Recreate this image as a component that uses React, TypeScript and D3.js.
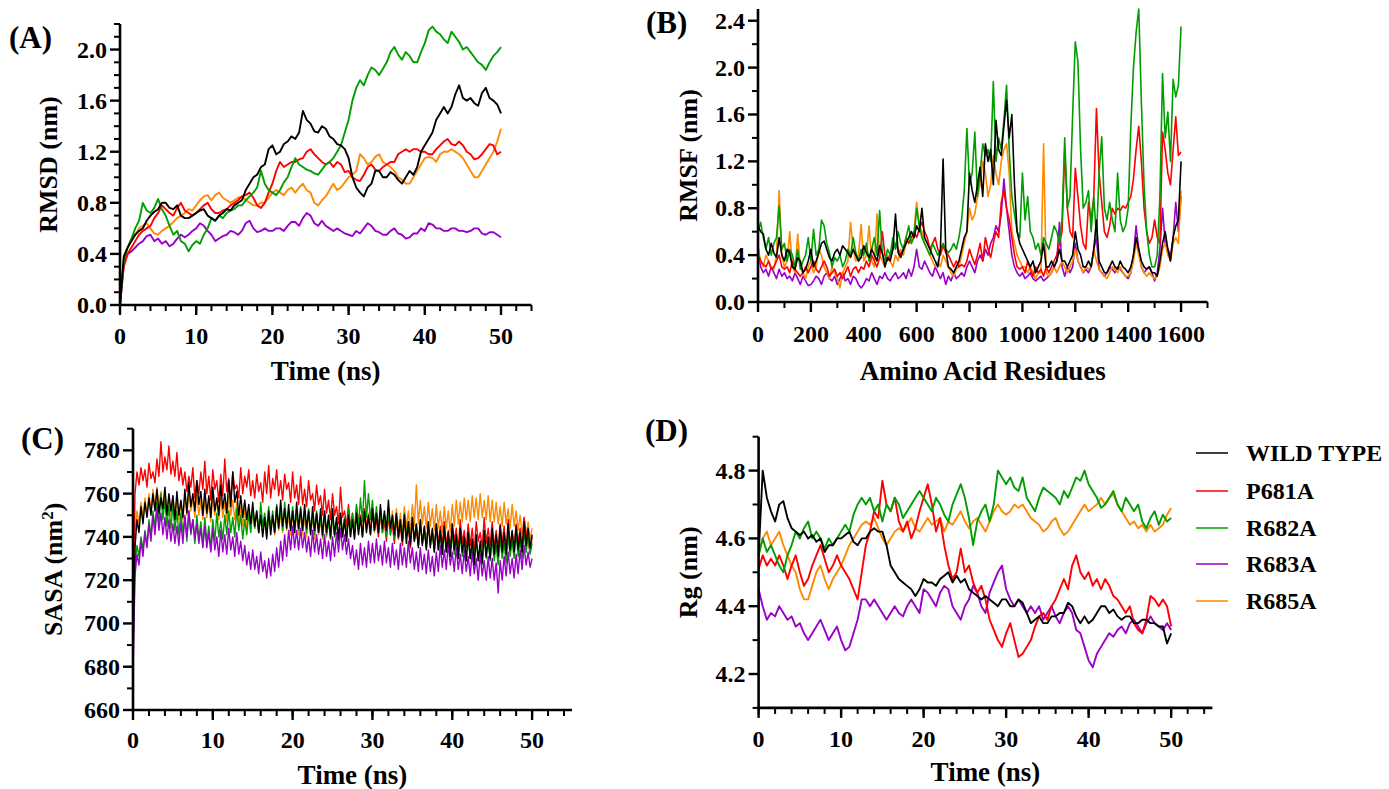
import React from 'react';
import * as d3 from 'd3';

const W = 1389;
const H = 789;
const FONT = "'Liberation Serif', 'Times New Roman', Times, serif";

const SERIES = ['WILD TYPE', 'P681A', 'R682A', 'R683A', 'R685A'];
const COLORS = ['#000000', '#FF0000', '#009E00', '#9B00C8', '#FF8A00'];

const TIME_HALF = d3.range(0, 101).map((i) => i * 0.5);
const TIME_QUARTER = d3.range(0, 201).map((i) => i * 0.25);
const RESIDUES = d3.range(0, 161).map((i) => i * 10);

const TIME_TICKS = [0, 10, 20, 30, 40, 50];
const TIME_MINOR = [0, 2, 4, 6, 8, 10, 12, 14, 16, 18, 20, 22, 24, 26, 28, 30, 32, 34, 36, 38, 40, 42, 44, 46, 48, 50, 52, 54];
const RMSD_TICKS = [0, 0.4, 0.8, 1.2, 1.6, 2.0];
const RMSD_MINOR = [0.1, 0.2, 0.3, 0.5, 0.6, 0.7, 0.9, 1.0, 1.1, 1.3, 1.4, 1.5, 1.7, 1.8, 1.9, 2.1, 2.2];
const RMSF_TICKS = [0, 0.4, 0.8, 1.2, 1.6, 2.0, 2.4];
const RMSF_MINOR = [0.2, 0.6, 1.0, 1.4, 1.8, 2.2];
const RES_TICKS = [0, 200, 400, 600, 800, 1000, 1200, 1400, 1600];
const RES_MINOR = [100, 300, 500, 700, 900, 1100, 1300, 1500, 1700];
const SASA_TICKS = [660, 680, 700, 720, 740, 760, 780];
const SASA_MINOR = [670, 690, 710, 730, 750, 770, 790];
const RG_TICKS = [4.2, 4.4, 4.6, 4.8];
const RG_MINOR = [4.1, 4.3, 4.5, 4.7, 4.9];

// ---------- (A) RMSD, t = 0..50 ns every 0.5 ns ----------
const RMSD_WT = [
  0.00, 0.38, 0.45, 0.50, 0.55, 0.58, 0.60, 0.66, 0.70, 0.73,
  0.75, 0.80, 0.80, 0.76, 0.75, 0.78, 0.70, 0.68, 0.68, 0.70,
  0.72, 0.74, 0.75, 0.70, 0.68, 0.66, 0.70, 0.72, 0.75, 0.74,
  0.78, 0.80, 0.82, 0.90, 0.95, 1.00, 1.02, 1.08, 1.10, 1.22,
  1.25, 1.18, 1.20, 1.26, 1.28, 1.32, 1.30, 1.35, 1.52, 1.45,
  1.42, 1.36, 1.35, 1.40, 1.38, 1.32, 1.30, 1.26, 1.25, 1.22,
  1.15, 1.00, 0.92, 0.88, 0.85, 0.92, 0.95, 1.05, 1.05, 1.00,
  1.00, 1.04, 1.02, 0.98, 0.95, 1.00, 1.05, 1.02, 1.08, 1.20,
  1.25, 1.30, 1.35, 1.45, 1.50, 1.55, 1.50, 1.55, 1.65, 1.72,
  1.62, 1.60, 1.62, 1.58, 1.56, 1.66, 1.70, 1.62, 1.60, 1.57,
  1.50,
];
const RMSD_P681A = [
  0.00, 0.30, 0.40, 0.45, 0.50, 0.55, 0.58, 0.60, 0.62, 0.68,
  0.72, 0.78, 0.75, 0.72, 0.70, 0.76, 0.80, 0.74, 0.72, 0.70,
  0.72, 0.75, 0.78, 0.80, 0.75, 0.72, 0.72, 0.74, 0.75, 0.78,
  0.80, 0.82, 0.85, 0.86, 0.88, 0.84, 0.78, 0.76, 0.80, 0.88,
  0.95, 1.05, 1.12, 1.08, 1.10, 1.12, 1.12, 1.14, 1.15, 1.20,
  1.22, 1.18, 1.15, 1.12, 1.10, 1.12, 1.08, 1.12, 1.10, 1.04,
  1.05, 1.00, 0.98, 0.97, 1.02, 1.08, 1.10, 1.06, 1.05, 1.08,
  1.10, 1.12, 1.12, 1.18, 1.20, 1.22, 1.20, 1.22, 1.22, 1.20,
  1.20, 1.18, 1.18, 1.22, 1.25, 1.28, 1.30, 1.26, 1.25, 1.28,
  1.25, 1.20, 1.18, 1.14, 1.15, 1.18, 1.22, 1.26, 1.25, 1.18,
  1.20,
];
const RMSD_R682A = [
  0.00, 0.35, 0.45, 0.52, 0.60, 0.66, 0.80, 0.74, 0.72, 0.76,
  0.83, 0.75, 0.70, 0.62, 0.55, 0.58, 0.50, 0.48, 0.42, 0.47,
  0.50, 0.48, 0.55, 0.60, 0.68, 0.66, 0.70, 0.68, 0.72, 0.74,
  0.75, 0.78, 0.78, 0.82, 0.85, 0.88, 0.92, 1.05, 0.95, 0.90,
  0.88, 0.86, 0.90, 0.96, 1.00, 1.08, 1.15, 1.10, 1.08, 1.06,
  1.05, 1.03, 1.02, 1.06, 1.10, 1.12, 1.15, 1.20, 1.25, 1.35,
  1.45, 1.60, 1.70, 1.76, 1.72, 1.80, 1.86, 1.84, 1.80, 1.85,
  1.90, 1.98, 2.02, 1.96, 1.92, 1.98, 1.95, 1.90, 1.90, 1.98,
  2.05, 2.15, 2.18, 2.14, 2.12, 2.08, 2.05, 2.14, 2.10, 2.06,
  2.00, 2.02, 1.98, 1.94, 1.90, 1.88, 1.84, 1.90, 1.95, 1.98,
  2.02,
];
const RMSD_R683A = [
  0.00, 0.33, 0.40, 0.42, 0.45, 0.48, 0.50, 0.54, 0.55, 0.50,
  0.52, 0.48, 0.50, 0.46, 0.48, 0.52, 0.55, 0.53, 0.55, 0.58,
  0.60, 0.64, 0.62, 0.58, 0.55, 0.50, 0.52, 0.54, 0.55, 0.58,
  0.57, 0.55, 0.58, 0.64, 0.66, 0.60, 0.57, 0.58, 0.60, 0.58,
  0.58, 0.60, 0.60, 0.58, 0.62, 0.65, 0.65, 0.62, 0.68, 0.72,
  0.70, 0.64, 0.62, 0.66, 0.62, 0.60, 0.58, 0.60, 0.58, 0.56,
  0.55, 0.54, 0.58, 0.56, 0.60, 0.64, 0.62, 0.58, 0.57, 0.55,
  0.55, 0.58, 0.60, 0.56, 0.55, 0.52, 0.53, 0.56, 0.56, 0.60,
  0.58, 0.64, 0.63, 0.60, 0.60, 0.58, 0.58, 0.60, 0.60, 0.58,
  0.58, 0.57, 0.58, 0.60, 0.60, 0.56, 0.55, 0.57, 0.57, 0.55,
  0.53,
];
const RMSD_R685A = [
  0.00, 0.36, 0.45, 0.52, 0.55, 0.60, 0.62, 0.64, 0.60, 0.56,
  0.55, 0.58, 0.60, 0.62, 0.65, 0.68, 0.70, 0.72, 0.75, 0.74,
  0.78, 0.82, 0.85, 0.86, 0.82, 0.86, 0.88, 0.84, 0.82, 0.80,
  0.82, 0.84, 0.85, 0.82, 0.80, 0.78, 0.78, 0.80, 0.80, 0.84,
  0.88, 0.90, 0.88, 0.86, 0.90, 0.92, 0.88, 0.92, 0.95, 0.90,
  0.88, 0.80, 0.78, 0.82, 0.85, 0.90, 0.95, 0.90, 0.92, 0.96,
  1.00, 1.02, 1.05, 1.18, 1.15, 1.10, 1.12, 1.16, 1.18, 1.12,
  1.10, 1.08, 1.05, 1.00, 0.98, 0.95, 0.95, 1.00, 1.05, 1.10,
  1.15, 1.16, 1.15, 1.12, 1.18, 1.20, 1.20, 1.22, 1.20, 1.18,
  1.15, 1.10, 1.05, 1.00, 1.00, 1.05, 1.10, 1.15, 1.20, 1.28,
  1.38,
];

// ---------- (B) RMSF, residues 0..1600 every 10 ----------
const RMSF_WT = [
  0.65, 0.60, 0.58, 0.45, 0.40, 0.50, 0.42, 0.38, 0.55, 0.40,
  0.35, 0.45, 0.42, 0.30, 0.28, 0.38, 0.35, 0.25, 0.28, 0.35,
  0.45, 0.30, 0.35, 0.42, 0.50, 0.52, 0.45, 0.38, 0.35, 0.42,
  0.45, 0.40, 0.48, 0.45, 0.42, 0.38, 0.45, 0.40, 0.35, 0.38,
  0.48, 0.42, 0.38, 0.45, 0.40, 0.35, 0.48, 0.42, 0.30, 0.38,
  0.35, 0.45, 0.75, 0.42, 0.38, 0.45, 0.50, 0.55, 0.60, 0.55,
  0.65, 0.60, 0.80, 0.55, 0.50, 0.45, 0.40, 0.35, 0.30, 0.45,
  1.22, 0.45, 0.30, 0.28, 0.25, 0.30, 0.35, 0.45, 0.55, 0.60,
  1.10, 0.95, 0.85, 1.00, 1.15, 0.90, 1.35, 1.20, 1.30, 1.00,
  1.55, 1.30, 1.25, 1.50, 1.72, 1.40, 1.60, 1.00, 0.60, 0.50,
  0.45, 0.40, 0.35, 0.30, 0.35, 0.25, 0.30, 0.35, 0.50, 0.30,
  0.30, 0.35, 0.30, 0.35, 0.45, 0.35, 0.35, 0.30, 0.35, 0.40,
  0.60, 0.45, 0.40, 0.30, 0.30, 0.35, 0.30, 0.45, 0.70, 0.35,
  0.30, 0.25, 0.25, 0.30, 0.35, 0.30, 0.28, 0.35, 0.30, 0.28,
  0.25, 0.30, 0.40, 0.55, 0.45, 0.35, 0.30, 0.28, 0.30, 0.25,
  0.25, 0.22, 0.35, 0.50, 0.60, 0.45, 0.35, 0.55, 0.65, 0.70,
  1.20,
];
const RMSF_P681A = [
  0.40, 0.35, 0.32, 0.30, 0.35, 0.28, 0.30, 0.35, 0.40, 0.30,
  0.28, 0.30, 0.25, 0.35, 0.28, 0.25, 0.22, 0.25, 0.30, 0.25,
  0.30, 0.35, 0.28, 0.25, 0.30, 0.35, 0.30, 0.22, 0.25, 0.28,
  0.22, 0.25, 0.20, 0.25, 0.30, 0.22, 0.28, 0.30, 0.25, 0.30,
  0.28, 0.35, 0.30, 0.40, 0.35, 0.30, 0.38, 0.60, 0.40, 0.35,
  0.40, 0.45, 0.50, 0.45, 0.40, 0.45, 0.55, 0.50, 0.55, 0.60,
  0.55, 0.62, 0.68, 0.60, 0.55, 0.45, 0.50, 0.55, 0.45, 0.40,
  0.48, 0.42, 0.40, 0.35, 0.30, 0.35, 0.30, 0.32, 0.30, 0.35,
  0.45, 0.38, 0.32, 0.40, 0.50, 0.35, 0.55, 0.45, 0.38, 0.50,
  0.60, 0.55, 0.85, 0.95, 0.80, 0.70, 0.55, 0.40, 0.30, 0.28,
  0.30, 0.25, 0.35, 0.28, 0.22, 0.30, 0.25, 0.28, 0.22, 0.30,
  0.25, 0.30, 0.35, 0.40, 0.50, 0.60, 1.30, 0.80, 0.60, 0.55,
  1.14, 0.90, 0.65, 0.50, 0.45, 0.85, 0.70, 0.90, 1.65, 1.10,
  0.85, 0.60, 0.55, 0.65, 0.80, 0.75, 0.80, 0.78, 0.82, 0.80,
  0.85, 0.90, 1.05, 1.30, 1.50, 1.20, 0.80, 0.60, 0.50, 0.55,
  0.70, 0.55, 0.50, 1.45, 1.30, 1.10, 1.00, 1.30, 1.58, 1.25,
  1.28,
];
const RMSF_R682A = [
  0.60, 0.68, 0.55, 0.45, 0.55, 0.40, 0.50, 0.55, 0.82, 0.45,
  0.50, 0.35, 0.45, 0.40, 0.30, 0.45, 0.28, 0.35, 0.40, 0.55,
  0.35, 0.62, 0.40, 0.45, 0.70, 0.65, 0.50, 0.42, 0.30, 0.38,
  0.35, 0.40, 0.30, 0.35, 0.45, 0.40, 0.55, 0.42, 0.35, 0.45,
  0.40, 0.50, 0.35, 0.45, 0.55, 0.40, 0.78, 0.42, 0.35, 0.45,
  0.40, 0.55, 0.45, 0.60, 0.50, 0.45, 0.55, 0.65, 0.50, 0.55,
  0.80, 0.65, 0.55, 0.50, 0.45, 0.40, 0.50, 0.45, 0.40, 0.45,
  0.50, 0.45, 0.42, 0.45, 0.50, 0.45, 0.55, 0.70, 0.95, 1.48,
  1.00, 1.10, 1.45, 0.90, 1.10, 1.35, 1.25, 1.30, 1.20, 1.88,
  1.20, 1.40, 1.30, 1.55, 1.85, 1.30, 0.90, 0.75, 0.60, 0.55,
  1.10, 0.70, 0.90, 0.60, 0.55, 0.45, 0.50, 0.40, 0.55, 0.50,
  0.45, 0.55, 0.65, 0.60, 0.50, 0.70, 1.40, 0.80, 0.90, 1.60,
  2.22, 2.05, 1.30, 0.80, 0.85, 0.95, 0.60, 0.90, 0.55, 1.10,
  1.41, 0.80, 0.70, 0.85, 0.70, 0.60, 1.10, 0.70, 0.60, 0.65,
  0.80, 1.50, 2.00, 2.30, 2.50, 1.70, 1.00, 0.60, 0.40, 0.30,
  0.30, 0.40, 0.90, 1.95, 1.40, 1.62, 1.20, 1.90, 1.75, 1.85,
  2.35,
];
const RMSF_R683A = [
  0.48, 0.30, 0.25, 0.28, 0.22, 0.30, 0.25, 0.20, 0.28, 0.22,
  0.25, 0.20, 0.22, 0.18, 0.25, 0.20, 0.15, 0.22, 0.18, 0.14,
  0.15, 0.18, 0.22, 0.20, 0.15, 0.22, 0.25, 0.20, 0.18, 0.22,
  0.15, 0.20, 0.25, 0.18, 0.20, 0.15, 0.22, 0.20, 0.15, 0.12,
  0.15, 0.20, 0.18, 0.25, 0.20, 0.15, 0.22, 0.20, 0.25, 0.20,
  0.18, 0.22, 0.25, 0.20, 0.22, 0.25, 0.20, 0.28, 0.22, 0.30,
  0.45, 0.30, 0.28, 0.35, 0.30, 0.25, 0.22, 0.30, 0.25, 0.20,
  0.25, 0.15, 0.22, 0.18, 0.25, 0.20, 0.22, 0.25, 0.22, 0.30,
  0.35, 0.30, 0.25, 0.35, 0.40, 0.35, 0.45, 0.40, 0.50, 0.55,
  0.65, 0.60, 0.75, 1.05, 0.80, 0.60, 0.40, 0.30, 0.25, 0.22,
  0.25, 0.20, 0.22, 0.25, 0.20, 0.18, 0.20, 0.22, 0.18, 0.20,
  0.22, 0.25, 0.30, 0.35, 0.68, 0.30, 0.22, 0.30, 0.25, 0.30,
  0.50, 0.35, 0.30, 0.25, 0.28, 0.25, 0.30, 0.45, 0.55, 0.28,
  0.25, 0.22, 0.25, 0.30, 0.28, 0.25, 0.30, 0.28, 0.25, 0.22,
  0.20, 0.25, 0.40, 0.65, 0.45, 0.30, 0.25, 0.28, 0.30, 0.25,
  0.18, 0.25, 0.45, 0.80, 0.50, 0.45, 0.40, 0.55, 0.85, 0.60,
  0.90,
];
const RMSF_R685A = [
  0.45, 0.35, 0.30, 0.40, 0.35, 0.30, 0.28, 0.40, 0.95, 0.40,
  0.30, 0.35, 0.60, 0.30, 0.25, 0.58, 0.30, 0.25, 0.20, 0.30,
  0.35, 0.25, 0.30, 0.45, 0.40, 0.30, 0.25, 0.20, 0.30, 0.25,
  0.20, 0.12, 0.25, 0.30, 0.35, 0.68, 0.45, 0.35, 0.40, 0.66,
  0.35, 0.40, 0.65, 0.35, 0.30, 0.75, 0.40, 0.35, 0.30, 0.40,
  0.35, 0.30, 0.40, 0.35, 0.45, 0.40, 0.50, 0.55, 0.50, 0.60,
  0.85, 0.65, 0.60, 0.50, 0.45, 0.40, 0.35, 0.30, 0.35, 0.30,
  0.40, 0.35, 0.30, 0.25, 0.22, 0.28, 0.30, 0.40, 0.50, 0.60,
  0.80, 0.70, 0.75, 0.90, 1.00, 1.20, 1.10, 0.90, 1.00, 1.25,
  1.10, 1.00, 1.20, 1.30, 1.35, 1.10, 0.60, 0.50, 0.40, 0.35,
  0.30, 0.30, 0.25, 0.30, 0.25, 0.20, 0.25, 0.25, 1.35, 0.25,
  0.22, 0.25, 0.30, 0.25, 0.30, 0.35, 0.30, 0.25, 0.30, 0.35,
  0.45, 0.35, 0.30, 0.25, 0.30, 0.28, 0.30, 0.45, 0.35, 0.28,
  0.25, 0.22, 0.20, 0.25, 0.30, 0.28, 0.25, 0.30, 0.25, 0.22,
  0.22, 0.25, 0.35, 0.50, 0.40, 0.30, 0.25, 0.22, 0.25, 0.22,
  0.20, 0.22, 0.30, 0.45, 0.50, 0.40, 0.35, 0.50, 0.55, 0.50,
  0.95,
];

// ---------- (C) SASA, t = 0..50 ns every 0.25 ns ----------
const SASA_WT = [
  688, 735, 748, 742, 754, 746, 756, 749, 758, 750, 760, 752,
  762, 751, 758, 753, 763, 750, 760, 752, 759, 748, 761, 750,
  757, 749, 762, 751, 765, 754, 760, 752, 766, 755, 761, 750,
  762, 751, 759, 749, 763, 752, 758, 750, 764, 753, 760, 751,
  766, 754, 770, 756, 761, 750, 759, 749, 757, 748, 755, 746,
  756, 745, 752, 742, 750, 740, 749, 739, 752, 741, 750, 742,
  754, 744, 757, 745, 753, 744, 755, 743, 752, 742, 756, 744,
  753, 743, 755, 744, 752, 741, 754, 743, 751, 742, 753, 741,
  752, 742, 750, 740, 753, 741, 749, 739, 751, 740, 748, 738,
  750, 740, 748, 739, 751, 741, 749, 740, 752, 742, 750, 741,
  753, 743, 751, 742, 755, 744, 752, 743, 757, 744, 750, 741,
  751, 740, 748, 738, 750, 737, 747, 736, 749, 738, 746, 735,
  748, 736, 745, 734, 747, 735, 744, 733, 746, 734, 743, 732,
  745, 733, 742, 731, 746, 734, 741, 730, 744, 733, 740, 729,
  742, 730, 739, 727, 741, 729, 738, 728, 743, 731, 740, 730,
  744, 732, 741, 731, 745, 733, 742, 732, 746, 734, 743, 733,
  745, 734, 742, 733, 747, 736, 744, 735, 741,
];
const SASA_P681A = [
  690, 760, 770, 764, 772, 766, 771, 763, 774, 767, 770, 765,
  776, 768, 784, 770, 777, 771, 782, 769, 775, 768, 779, 766,
  772, 764, 770, 761, 768, 763, 772, 758, 766, 760, 770, 762,
  775, 760, 768, 757, 771, 762, 766, 756, 769, 759, 776, 761,
  767, 757, 770, 762, 764, 758, 772, 760, 768, 763, 771, 759,
  766, 758, 769, 761, 765, 756, 770, 760, 773, 758, 767, 762,
  771, 759, 766, 757, 769, 762, 765, 756, 770, 758, 764, 755,
  768, 755, 762, 754, 766, 757, 760, 752, 764, 755, 759, 750,
  762, 751, 757, 748, 760, 750, 754, 746, 763, 749, 752, 745,
  755, 744, 751, 742, 754, 746, 750, 740, 753, 745, 749, 741,
  752, 743, 748, 740, 751, 742, 747, 738, 750, 741, 746, 737,
  749, 739, 745, 736, 748, 740, 744, 735, 747, 738, 743, 736,
  746, 737, 744, 735, 747, 738, 742, 734, 746, 737, 745, 736,
  747, 736, 743, 735, 746, 738, 744, 734, 748, 737, 743, 735,
  746, 736, 744, 733, 747, 738, 742, 735, 749, 737, 744, 736,
  747, 735, 743, 734, 746, 737, 745, 733, 748, 736, 742, 735,
  746, 737, 744, 735, 749, 742, 738, 733, 740,
];
const SASA_R682A = [
  680, 728, 736, 731, 740, 734, 743, 736, 748, 740, 752, 744,
  756, 746, 760, 748, 757, 745, 754, 744, 755, 743, 752, 741,
  751, 742, 749, 738, 752, 741, 748, 737, 750, 739, 747, 736,
  749, 737, 745, 734, 748, 738, 751, 740, 747, 739, 750, 741,
  752, 742, 749, 740, 753, 743, 750, 739, 748, 741, 751, 742,
  753, 744, 752, 742, 756, 745, 751, 743, 754, 744, 752, 742,
  755, 745, 753, 743, 756, 746, 752, 744, 754, 745, 751, 743,
  754, 744, 752, 742, 753, 743, 750, 741, 752, 742, 749, 740,
  751, 741, 748, 739, 750, 740, 747, 738, 751, 741, 749, 740,
  753, 743, 751, 742, 755, 745, 758, 747, 766, 749, 760, 748,
  757, 745, 754, 743, 752, 742, 750, 740, 753, 741, 749, 739,
  750, 740, 748, 738, 751, 741, 747, 737, 749, 739, 746, 736,
  747, 737, 744, 735, 746, 736, 743, 733, 745, 734, 741, 732,
  743, 733, 740, 731, 742, 732, 739, 730, 741, 731, 738, 729,
  740, 730, 737, 728, 739, 729, 736, 727, 740, 730, 738, 729,
  739, 729, 736, 727, 740, 730, 737, 728, 741, 731, 738, 730,
  742, 731, 739, 730, 743, 733, 740, 732, 737,
];
const SASA_R683A = [
  675, 722, 732, 727, 738, 731, 742, 735, 746, 738, 750, 741,
  753, 743, 751, 741, 749, 739, 748, 738, 746, 737, 745, 736,
  747, 737, 750, 740, 752, 742, 748, 739, 746, 737, 744, 735,
  745, 735, 742, 733, 744, 734, 740, 731, 743, 733, 741, 732,
  744, 734, 740, 731, 742, 732, 738, 729, 736, 727, 733, 725,
  734, 725, 731, 723, 733, 724, 729, 721, 730, 722, 732, 724,
  735, 726, 738, 729, 741, 731, 743, 734, 745, 735, 743, 734,
  744, 735, 742, 733, 740, 731, 743, 733, 741, 732, 739, 730,
  741, 731, 738, 729, 740, 731, 742, 733, 744, 734, 741, 732,
  739, 730, 736, 727, 734, 725, 737, 727, 735, 726, 738, 728,
  737, 728, 739, 729, 736, 727, 738, 728, 735, 726, 737, 727,
  734, 725, 737, 727, 735, 726, 738, 728, 735, 725, 733, 724,
  735, 725, 732, 723, 734, 724, 731, 722, 733, 724, 736, 726,
  734, 725, 737, 727, 733, 724, 735, 725, 732, 723, 734, 724,
  731, 722, 733, 723, 730, 720, 732, 722, 729, 720, 731, 721,
  730, 720, 728, 714, 729, 720, 731, 722, 733, 723, 730, 721,
  732, 723, 734, 725, 736, 727, 733, 726, 730,
];
const SASA_R685A = [
  690, 742, 752, 746, 756, 749, 758, 750, 760, 752, 762, 753,
  763, 754, 761, 752, 760, 751, 758, 750, 759, 749, 757, 748,
  756, 748, 759, 750, 761, 752, 758, 749, 760, 750, 757, 748,
  758, 749, 756, 747, 759, 750, 757, 748, 758, 749, 756, 747,
  759, 750, 757, 748, 756, 747, 754, 745, 753, 744, 752, 743,
  753, 744, 751, 742, 750, 741, 749, 740, 751, 742, 750, 741,
  752, 743, 751, 742, 753, 743, 750, 741, 752, 742, 751, 741,
  751, 741, 750, 740, 752, 742, 749, 739, 751, 741, 748, 739,
  750, 740, 748, 739, 751, 741, 747, 738, 750, 740, 748, 739,
  750, 740, 749, 739, 752, 742, 750, 741, 753, 743, 751, 742,
  752, 742, 750, 741, 753, 743, 751, 742, 754, 744, 752, 742,
  753, 743, 751, 741, 754, 744, 752, 742, 755, 745, 764, 746,
  757, 746, 754, 744, 756, 745, 753, 743, 755, 744, 752, 742,
  754, 744, 752, 742, 755, 745, 757, 746, 756, 747, 758, 748,
  757, 747, 759, 749, 758, 748, 760, 749, 757, 748, 759, 747,
  757, 747, 756, 746, 754, 745, 756, 746, 753, 744, 755, 745,
  752, 743, 750, 741, 749, 740, 747, 739, 744,
];

// ---------- (D) Rg, t = 0..50 ns every 0.5 ns ----------
const RG_WT = [
  4.55, 4.80, 4.72, 4.68, 4.65, 4.70, 4.71, 4.66, 4.63, 4.62,
  4.61, 4.62, 4.60, 4.61, 4.59, 4.60, 4.56, 4.58, 4.58, 4.60,
  4.60, 4.61, 4.62, 4.59, 4.58, 4.60, 4.60, 4.62, 4.63, 4.62,
  4.62, 4.58, 4.52, 4.50, 4.48, 4.47, 4.46, 4.45, 4.43, 4.45,
  4.48, 4.47, 4.47, 4.46, 4.48, 4.49, 4.50, 4.47, 4.49, 4.47,
  4.48, 4.45, 4.44, 4.43, 4.42, 4.43, 4.42, 4.41, 4.40, 4.42,
  4.42, 4.40, 4.40, 4.42, 4.41, 4.38, 4.35, 4.36, 4.37, 4.35,
  4.35, 4.37, 4.37, 4.38, 4.38, 4.41, 4.40, 4.37, 4.35, 4.37,
  4.35, 4.36, 4.38, 4.40, 4.40, 4.38, 4.39, 4.37, 4.36, 4.37,
  4.37, 4.35, 4.35, 4.36, 4.36, 4.35, 4.35, 4.34, 4.34, 4.29,
  4.32,
];
const RG_P681A = [
  4.51, 4.55, 4.52, 4.54, 4.52, 4.55, 4.52, 4.48, 4.52, 4.55,
  4.50, 4.46, 4.48, 4.52, 4.55, 4.58, 4.54, 4.50, 4.52, 4.55,
  4.52, 4.50, 4.48, 4.45, 4.42, 4.50, 4.58, 4.62, 4.68, 4.66,
  4.77, 4.70, 4.68, 4.72, 4.65, 4.62, 4.65, 4.60, 4.63, 4.68,
  4.72, 4.76, 4.70, 4.62, 4.66, 4.58, 4.52, 4.48, 4.50, 4.57,
  4.50, 4.52, 4.47, 4.44, 4.46, 4.42, 4.36, 4.33, 4.30, 4.28,
  4.32, 4.35, 4.30, 4.25, 4.26, 4.28, 4.30, 4.34, 4.37, 4.38,
  4.36, 4.40, 4.42, 4.45, 4.48, 4.45, 4.52, 4.55, 4.50, 4.48,
  4.50, 4.46, 4.48, 4.45, 4.48, 4.46, 4.43, 4.42, 4.40, 4.38,
  4.40, 4.35, 4.33, 4.32, 4.36, 4.43, 4.42, 4.40, 4.42, 4.40,
  4.34,
];
const RG_R682A = [
  4.55, 4.60, 4.56, 4.58, 4.55, 4.52, 4.50, 4.55, 4.58, 4.62,
  4.60, 4.63, 4.65, 4.60, 4.62, 4.60, 4.57, 4.60, 4.58, 4.60,
  4.62, 4.64, 4.62, 4.67, 4.70, 4.72, 4.70, 4.72, 4.68, 4.70,
  4.65, 4.70, 4.68, 4.72, 4.70, 4.66, 4.68, 4.70, 4.72, 4.74,
  4.72, 4.70, 4.68, 4.72, 4.70, 4.67, 4.65, 4.70, 4.73, 4.76,
  4.72, 4.66, 4.58, 4.65, 4.68, 4.70, 4.65, 4.70, 4.80, 4.78,
  4.76, 4.78, 4.75, 4.74, 4.78, 4.72, 4.70, 4.68, 4.72, 4.75,
  4.74, 4.73, 4.72, 4.70, 4.74, 4.72, 4.75, 4.78, 4.77, 4.80,
  4.76, 4.74, 4.72, 4.69, 4.70, 4.72, 4.74, 4.70, 4.68, 4.72,
  4.70, 4.68, 4.70, 4.65, 4.63, 4.66, 4.68, 4.64, 4.67, 4.65,
  4.66,
];
const RG_R683A = [
  4.45, 4.40, 4.36, 4.38, 4.37, 4.40, 4.38, 4.36, 4.37, 4.34,
  4.35, 4.32, 4.30, 4.32, 4.34, 4.36, 4.33, 4.30, 4.32, 4.34,
  4.30, 4.27, 4.28, 4.32, 4.36, 4.42, 4.42, 4.40, 4.42, 4.40,
  4.38, 4.36, 4.38, 4.40, 4.38, 4.37, 4.40, 4.42, 4.40, 4.38,
  4.45, 4.44, 4.42, 4.40, 4.44, 4.46, 4.45, 4.40, 4.38, 4.36,
  4.40, 4.42, 4.46, 4.44, 4.40, 4.38, 4.44, 4.47, 4.50, 4.52,
  4.45, 4.42, 4.40, 4.42, 4.40, 4.38, 4.40, 4.38, 4.40, 4.36,
  4.38, 4.40, 4.37, 4.35, 4.38, 4.40, 4.38, 4.33, 4.32, 4.28,
  4.24, 4.22, 4.26, 4.28, 4.30, 4.32, 4.31, 4.33, 4.34, 4.32,
  4.35, 4.36, 4.34, 4.32, 4.35, 4.37, 4.35, 4.34, 4.33, 4.35,
  4.33,
];
const RG_R685A = [
  4.55, 4.60, 4.62, 4.58, 4.60, 4.62, 4.58, 4.55, 4.52, 4.50,
  4.45, 4.42, 4.42, 4.46, 4.50, 4.52, 4.48, 4.45, 4.48, 4.50,
  4.52, 4.55, 4.58, 4.60, 4.62, 4.64, 4.65, 4.64, 4.66, 4.63,
  4.60, 4.58, 4.60, 4.62, 4.63, 4.62, 4.64, 4.66, 4.63, 4.62,
  4.64, 4.66, 4.64, 4.65, 4.66, 4.62, 4.65, 4.64, 4.66, 4.68,
  4.65, 4.63, 4.65, 4.66, 4.64, 4.62, 4.65, 4.68, 4.70, 4.68,
  4.67, 4.68, 4.70, 4.69, 4.70, 4.68, 4.66, 4.65, 4.64, 4.62,
  4.63, 4.65, 4.66, 4.63, 4.61, 4.62, 4.64, 4.66, 4.68, 4.70,
  4.68, 4.69, 4.70, 4.72, 4.70, 4.72, 4.73, 4.70, 4.68, 4.66,
  4.64, 4.65, 4.63, 4.64, 4.62, 4.64, 4.62, 4.63, 4.64, 4.67,
  4.69,
];

type Series = { xs: number[]; ys: number[]; color: string };
type Cfg = {
  xDomain: [number, number];
  xRange: [number, number];
  yDomain: [number, number];
  yRange: [number, number];
  xTicks: number[];
  xMinor: number[];
  yTicks: number[];
  yMinor: number[];
  yFmt: (v: number) => string;
  xLabelY: number;
  xTitle: string;
  xTitleY: number;
  yTitle: React.ReactNode;
  yTitleX: number;
  label: string;
  labelX: number;
  labelY: number;
  series: Series[];
  lineWidth: number;
};

const TICK_FS = 24;
const TITLE_FS = 27;

function Panel({ cfg }: { cfg: Cfg }) {
  const x = d3.scaleLinear().domain(cfg.xDomain).range(cfg.xRange);
  const y = d3.scaleLinear().domain(cfg.yDomain).range(cfg.yRange);
  const x0 = cfg.xRange[0];
  const y0 = cfg.yRange[0];
  const line = (s: Series) =>
    d3
      .line<number>()
      .x((_, i) => x(s.xs[i]))
      .y((d) => y(d))(s.ys) || '';
  const yMid = (cfg.yRange[0] + cfg.yRange[1]) / 2;
  const xMid = (cfg.xRange[0] + cfg.xRange[1]) / 2;
  return (
    <g>
      {cfg.series.map((s, i) => (
        <path key={i} d={line(s)} fill="none" stroke={s.color} strokeWidth={cfg.lineWidth} strokeLinejoin="round" />
      ))}
      <line x1={x0} x2={x0} y1={y0 + 1} y2={cfg.yRange[1]} stroke="#000" strokeWidth={2.6} />
      <line x1={x0 - 1} x2={cfg.xRange[1]} y1={y0} y2={y0} stroke="#000" strokeWidth={2.6} />
      {cfg.yTicks.map((v) => (
        <g key={'yt' + v}>
          <line x1={x0 - 10} x2={x0} y1={y(v)} y2={y(v)} stroke="#000" strokeWidth={2.4} />
          <text x={x0 - 13} y={y(v) + 8} textAnchor="end" fontSize={TICK_FS} fontWeight="bold" fontFamily={FONT}>
            {cfg.yFmt(v)}
          </text>
        </g>
      ))}
      {cfg.yMinor.map((v) => (
        <line key={'ym' + v} x1={x0 - 6} x2={x0} y1={y(v)} y2={y(v)} stroke="#000" strokeWidth={2} />
      ))}
      {cfg.xTicks.map((v) => (
        <g key={'xt' + v}>
          <line x1={x(v)} x2={x(v)} y1={y0} y2={y0 + 10} stroke="#000" strokeWidth={2.4} />
          <text x={x(v)} y={cfg.xLabelY} textAnchor="middle" fontSize={TICK_FS} fontWeight="bold" fontFamily={FONT}>
            {v}
          </text>
        </g>
      ))}
      {cfg.xMinor.map((v) => (
        <line key={'xm' + v} x1={x(v)} x2={x(v)} y1={y0} y2={y0 + 6} stroke="#000" strokeWidth={2} />
      ))}
      <text x={xMid} y={cfg.xTitleY} textAnchor="middle" fontSize={TITLE_FS} fontWeight="bold" fontFamily={FONT}>
        {cfg.xTitle}
      </text>
      <text
        transform={`translate(${cfg.yTitleX},${yMid}) rotate(-90)`}
        textAnchor="middle"
        fontSize={26}
        fontWeight="bold"
        fontFamily={FONT}
      >
        {cfg.yTitle}
      </text>
      <text x={cfg.labelX} y={cfg.labelY} fontSize={31} fontWeight="bold" fontFamily={FONT}>
        {cfg.label}
      </text>
    </g>
  );
}

const mk = (xs: number[], arrs: number[][], order: number[]): Series[] =>
  order.map((k) => ({ xs, ys: arrs[k], color: COLORS[k] }));

export default function App() {
  const order = [3, 4, 1, 2, 0];
  const cfgA: Cfg = {
    xDomain: [0, 54],
    xRange: [120, 531.5],
    yDomain: [0, 2.2],
    yRange: [305, 24],
    xTicks: TIME_TICKS,
    xMinor: TIME_MINOR,
    yTicks: RMSD_TICKS,
    yMinor: RMSD_MINOR,
    yFmt: (v) => v.toFixed(1),
    xLabelY: 344,
    xTitle: 'Time (ns)',
    xTitleY: 380,
    yTitle: 'RMSD (nm)',
    yTitleX: 57,
    label: '(A)',
    labelX: 9,
    labelY: 48,
    series: mk(TIME_HALF, [RMSD_WT, RMSD_P681A, RMSD_R682A, RMSD_R683A, RMSD_R685A], order),
    lineWidth: 1.9,
  };
  const cfgB: Cfg = {
    xDomain: [0, 1700],
    xRange: [758, 1207.5],
    yDomain: [0, 2.5],
    yRange: [302, 9],
    xTicks: RES_TICKS,
    xMinor: RES_MINOR,
    yTicks: RMSF_TICKS,
    yMinor: RMSF_MINOR,
    yFmt: (v) => v.toFixed(1),
    xLabelY: 342,
    xTitle: 'Amino Acid Residues',
    xTitleY: 380,
    yTitle: 'RMSF (nm)',
    yTitleX: 697,
    label: '(B)',
    labelX: 646,
    labelY: 33,
    series: mk(RESIDUES, [RMSF_WT, RMSF_P681A, RMSF_R682A, RMSF_R683A, RMSF_R685A], order),
    lineWidth: 1.6,
  };
  const cfgC: Cfg = {
    xDomain: [0, 55],
    xRange: [133, 572],
    yDomain: [660, 790],
    yRange: [710, 428.7],
    xTicks: TIME_TICKS,
    xMinor: TIME_MINOR,
    yTicks: SASA_TICKS,
    yMinor: SASA_MINOR,
    yFmt: (v) => String(v),
    xLabelY: 748,
    xTitle: 'Time (ns)',
    xTitleY: 784,
    yTitle: (
      <>
        SASA (nm<tspan baselineShift="super" fontSize={17}>2</tspan>)
      </>
    ),
    yTitleX: 62,
    label: '(C)',
    labelX: 21,
    labelY: 449,
    series: mk(TIME_QUARTER, [SASA_WT, SASA_P681A, SASA_R682A, SASA_R683A, SASA_R685A], [4, 1, 2, 3, 0]),
    lineWidth: 1.4,
  };
  const cfgD: Cfg = {
    xDomain: [0, 55],
    xRange: [758.6, 1212.4],
    yDomain: [4.1, 4.9],
    yRange: [707.9, 436.7],
    xTicks: TIME_TICKS,
    xMinor: TIME_MINOR,
    yTicks: RG_TICKS,
    yMinor: RG_MINOR,
    yFmt: (v) => v.toFixed(1),
    xLabelY: 747,
    xTitle: 'Time (ns)',
    xTitleY: 781,
    yTitle: 'Rg (nm)',
    yTitleX: 697,
    label: '(D)',
    labelX: 645,
    labelY: 441,
    series: mk(TIME_HALF, [RG_WT, RG_P681A, RG_R682A, RG_R683A, RG_R685A], order),
    lineWidth: 1.9,
  };
  const legendY = [453, 491, 528, 564, 601];
  return (
    <svg
      width={W}
      height={H}
      viewBox={`0 0 ${W} ${H}`}
      style={{ position: 'absolute', left: 0, top: 0, background: '#fff' }}
    >
      <rect x={0} y={0} width={W} height={H} fill="#fff" />
      <Panel cfg={cfgA} />
      <Panel cfg={cfgB} />
      <Panel cfg={cfgC} />
      <Panel cfg={cfgD} />
      <g>
        {SERIES.map((name, i) => (
          <g key={name}>
            <line x1={1196} x2={1228} y1={legendY[i]} y2={legendY[i]} stroke={COLORS[i]} strokeWidth={2} opacity={0.75} />
            <text x={1246} y={legendY[i] + 8} fontSize={24} fontWeight="bold" fontFamily={FONT}>
              {name}
            </text>
          </g>
        ))}
      </g>
    </svg>
  );
}
